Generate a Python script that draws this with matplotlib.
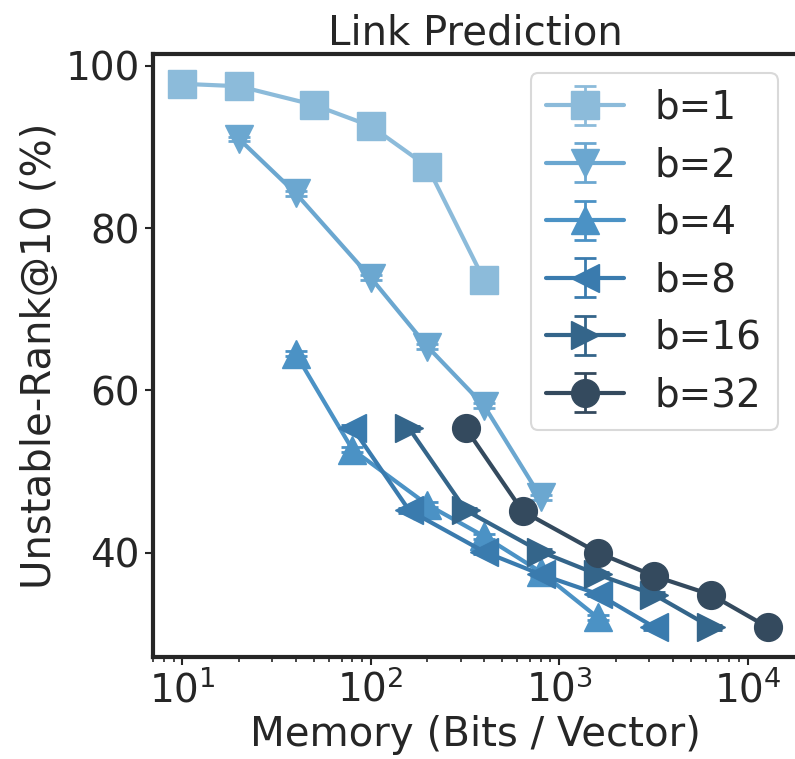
import matplotlib
matplotlib.use("Agg")
import numpy as np
import matplotlib.pyplot as plt
import seaborn as sns

# memory (bits / vector) for each b
mem_b1 = [10, 20, 50, 100, 200, 400]
mem_b2 = [20, 40, 100, 200, 400, 800]
mem_b4 = [40, 80, 200, 400, 800, 1600]
mem_b8 = [80, 160, 400, 800, 1600, 3200]
mem_b16 = [160, 320, 800, 1600, 3200, 6400]
mem_b32 = [320, 640, 1600, 3200, 6400, 12800]

# unstable-rank@10 (%)
rank_b1 = [97.8, 97.5, 95.2, 92.6, 87.6, 73.6]
rank_b2 = [91.0, 84.3, 73.9, 65.4, 58.1, 46.8]
rank_b4 = [64.5, 52.7, 45.9, 42.0, 37.6, 32.0]
rank_b8 = [55.4, 45.2, 40.1, 37.3, 34.9, 30.8]
rank_b16 = [55.3, 45.2, 40.1, 37.3, 34.8, 30.8]
rank_b32 = [55.3, 45.1, 40.0, 37.1, 34.8, 30.8]

# std over runs (tiny)
err = [0.3, 0.3, 0.3, 0.3, 0.3, 0.3]

labels = ["b=1", "b=2", "b=4", "b=8", "b=16", "b=32"]
markers = ["s", "v", "^", "<", ">", "o"]
colors = ["#8cbbda", "#6ba7d0", "#4b92c5", "#3a7bae", "#34658a", "#344a5e"]

sns.set_style("ticks")
plt.rcParams["font.family"] = ["DejaVu Sans"]
plt.rcParams["text.color"] = "#262626"
plt.rcParams["axes.labelcolor"] = "#262626"
plt.rcParams["xtick.color"] = "#262626"
plt.rcParams["ytick.color"] = "#262626"

fig = plt.figure(figsize=(7.95, 7.59), dpi=100)
ax = fig.add_axes([0.1925, 0.1344, 0.81, 0.7945])

mems = [mem_b1, mem_b2, mem_b4, mem_b8, mem_b16, mem_b32]
ranks = [rank_b1, rank_b2, rank_b4, rank_b8, rank_b16, rank_b32]
for m, r, lab, mk, c in zip(mems, ranks, labels, markers, colors):
    ax.errorbar(m, r, yerr=err, label=lab, marker=mk, color=c, mec=c,
                markersize=20, linewidth=3, capsize=8, capthick=2,
                elinewidth=2)

ax.set_xscale("log")
ax.set_title("Link Prediction", fontsize=29)
ax.set_xlabel("Memory (Bits / Vector)", fontsize=29)
ax.set_ylabel("Unstable-Rank@10 (%)", fontsize=29)
ax.set_yticks([40, 60, 80, 100])
ax.tick_params(axis="both", which="major", labelsize=28, length=6, width=1.5)
ax.tick_params(axis="x", which="minor", length=3.5, width=1.2)
for sp in ax.spines.values():
    sp.set_linewidth(3)
    sp.set_color("#262626")

leg = ax.legend(loc="upper right", fontsize=28, frameon=True,
                handlelength=2.0, labelspacing=0.5)
leg.get_frame().set_edgecolor("#d0d0d0")
leg.get_frame().set_linewidth(1.5)

fig.savefig("out.png", dpi=100)
